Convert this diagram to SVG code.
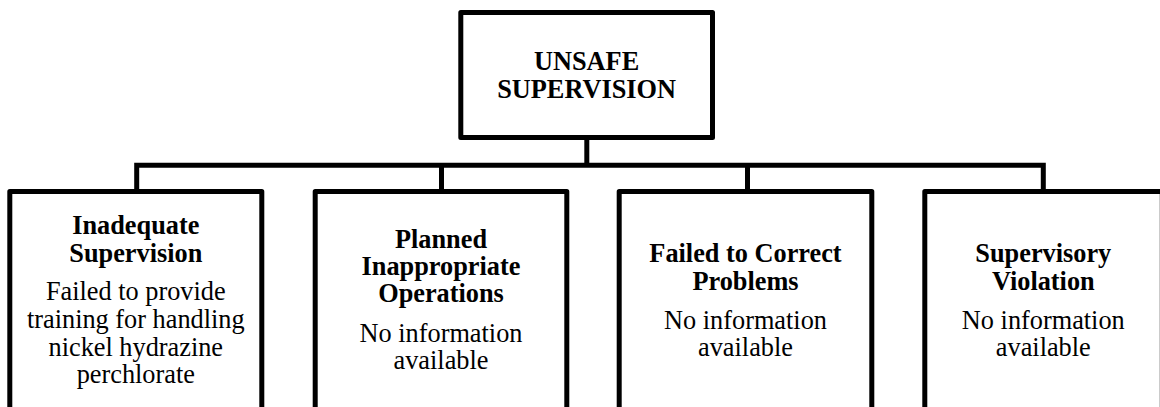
<svg xmlns="http://www.w3.org/2000/svg" width="1160" height="407" viewBox="0 0 1160 407">
<style>
.box{fill:#fff;stroke:#000;stroke-width:5;stroke-linejoin:round}
.con{fill:none;stroke:#000;stroke-width:5;stroke-linejoin:miter}
text{font-size:26.3px;fill:#000;text-anchor:middle}
.b{font-weight:bold}
</style>
<rect width="1160" height="407" fill="#fff"/>
<g id="connectors">
<path class="con" d="M586.8,137.5 V165.2"/>
<path class="con" d="M136.7,191.5 V165.2 H1043.3 V191.5"/>
<path class="con" d="M441.5,165.2 V191.5"/>
<path class="con" d="M747.5,165.2 V191.5"/>
</g>
<g font-family="'Liberation Serif', 'Times New Roman', Times, 'DejaVu Serif', serif">
<g id="unsafe-supervision">
<rect class="box" x="460.8" y="12.5" width="251.7" height="125"/>
<text class="b" x="586.6" y="70">UNSAFE</text>
<text class="b" x="586.6" y="97.5">SUPERVISION</text>
</g>
<g id="inadequate-supervision">
<rect class="box" x="9.8" y="191.5" width="252" height="240"/>
<text class="b" x="135.8" y="233.5">Inadequate</text>
<text class="b" x="135.8" y="261.5">Supervision</text>
<text x="135.8" y="300">Failed to provide</text>
<text x="135.8" y="328">training for handling</text>
<text x="135.8" y="355.5">nickel hydrazine</text>
<text x="135.8" y="383">perchlorate</text>
</g>
<g id="planned-inappropriate-operations">
<rect class="box" x="315.2" y="191.5" width="251.6" height="240"/>
<text class="b" x="441" y="248">Planned</text>
<text class="b" x="441" y="275">Inappropriate</text>
<text class="b" x="441" y="302">Operations</text>
<text x="441" y="341.5">No information</text>
<text x="441" y="368.5">available</text>
</g>
<g id="failed-to-correct-problems">
<rect class="box" x="619.2" y="191.5" width="252.6" height="240"/>
<text class="b" x="745.5" y="262">Failed to Correct</text>
<text class="b" x="745.5" y="289.5">Problems</text>
<text x="745.5" y="328.5">No information</text>
<text x="745.5" y="356">available</text>
</g>
<g id="supervisory-violation">
<rect class="box" x="924.8" y="191.5" width="237.5" height="240"/>
<text class="b" x="1043.3" y="262">Supervisory</text>
<text class="b" x="1043.3" y="289.5">Violation</text>
<text x="1043.3" y="328.5">No information</text>
<text x="1043.3" y="356">available</text>
</g>
</g>
</svg>
